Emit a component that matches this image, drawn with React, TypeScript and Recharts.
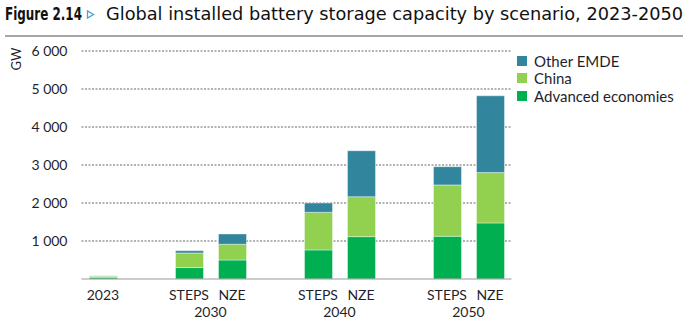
import React from "react";
import { BarChart, Bar, XAxis, YAxis, CartesianGrid, Legend } from "recharts";

const scenarios = ["2023", "", "STEPS", "NZE", "", "STEPS", "NZE", "", "STEPS", "NZE"];
const years = ["", "", "2030", "2030", "", "2040", "2040", "", "2050", "2050"];
const advanced = [45, null, 300, 500, null, 765, 1115, null, 1125, 1475];
const china = [30, null, 385, 415, null, 990, 1050, null, 1350, 1325];
const otherEmde = [7, null, 60, 270, null, 245, 1210, null, 480, 2020];
const yTicks = [1000, 2000, 3000, 4000, 5000, 6000];
const seriesNames = { adv: "Advanced economies", china: "China", other: "Other EMDE" };
const colors = { adv: "#00b050", china: "#92d050", other: "#31859c" };

const data = scenarios.map((s, i) => ({
  key: `c${i}`,
  scenario: s,
  year: years[i],
  adv: advanced[i],
  china: china[i],
  other: otherEmde[i],
}));

const FONT = "Lato, 'Open Sans', sans-serif";
const TXT = "#1f1f2e";
const LEGEND_W = 170;

const fmt = (v: number) => String(v).replace(/\B(?=(\d{3})+(?!\d))/g, " ");

const XTick = (props: any) => {
  const { x, y, payload } = props;
  const i = payload.index;
  const scen = scenarios[i];
  const yr = years[i];
  const firstOfPair = yr && years[i + 1] === yr;
  return (
    <g>
      {scen && (
        <text x={x} y={y} dy={21} textAnchor="middle" fontSize={14} fontFamily={FONT} fill={TXT}>
          {scen}
        </text>
      )}
      {firstOfPair && (
        <text x={x + 21.5} y={y} dy={38} textAnchor="middle" fontSize={14} fontFamily={FONT} fill={TXT}>
          {yr}
        </text>
      )}
    </g>
  );
};

const GwLabel = (props: any) => {
  const vb = props.viewBox || { x: 0, y: 0 };
  const cx = vb.x + 16;
  const cy = vb.y + 8;
  return (
    <text
      x={cx}
      y={cy}
      transform={`rotate(-90 ${cx} ${cy})`}
      textAnchor="middle"
      dominantBaseline="central"
      fontSize={13}
      fontFamily={FONT}
      fill={TXT}
    >
      GW
    </text>
  );
};

const LegendContent = (props: any) => {
  const items = [...(props.payload || [])].reverse();
  return (
    <div style={{ fontFamily: FONT, fontSize: 15, color: TXT }}>
      {items.map((it: any) => (
        <div key={it.value} style={{ display: "flex", alignItems: "center", height: 17.5, whiteSpace: "nowrap" }}>
          <span style={{ display: "inline-block", width: 10, height: 10, background: it.color, marginRight: 7 }} />
          <span>{it.value}</span>
        </div>
      ))}
    </div>
  );
};

export default function App() {
  return (
    <div style={{ position: "absolute", left: 0, top: 0, width: 694, height: 324, background: "#fff" }}>
      <BarChart
        width={694}
        height={324}
        data={data}
        margin={{ top: 51, right: 182.5 - LEGEND_W, bottom: 0, left: 0 }}
        barCategoryGap={0}
      >
        <CartesianGrid
          vertical={false}
          stroke="#9a9a9a"
          strokeWidth={1.4}
          strokeDasharray="2 1.5"
          horizontalValues={yTicks}
        />
        <XAxis
          dataKey="key"
          interval={0}
          tickLine={false}
          tickSize={0}
          tickMargin={0}
          height={45}
          axisLine={{ stroke: "#9a9a9a", strokeWidth: 1.2 }}
          tick={<XTick />}
        />
        <YAxis
          width={81.5}
          domain={[0, 6000]}
          ticks={yTicks}
          tickFormatter={fmt}
          axisLine={false}
          tickLine={false}
          tickSize={0}
          tickMargin={14}
          tick={{ fontSize: 14, fontFamily: FONT, fill: TXT }}
          label={<GwLabel />}
        />
        <Legend
          layout="horizontal"
          verticalAlign="middle"
          align="right"
          content={<LegendContent />}
          wrapperStyle={{ left: 517, top: 52, right: "auto", bottom: "auto", width: LEGEND_W }}
        />
        <Bar dataKey="adv" name={seriesNames.adv} stackId="a" fill={colors.adv} barSize={28} stroke="#ffffff" strokeOpacity={0.4} isAnimationActive={false} />
        <Bar dataKey="china" name={seriesNames.china} stackId="a" fill={colors.china} barSize={28} stroke="#ffffff" strokeOpacity={0.4} isAnimationActive={false} />
        <Bar dataKey="other" name={seriesNames.other} stackId="a" fill={colors.other} barSize={28} stroke="#ffffff" strokeOpacity={0.4} isAnimationActive={false} />
      </BarChart>
      <svg
        width={694}
        height={40}
        style={{ position: "absolute", left: 0, top: 0, pointerEvents: "none" }}
      >
        <text x={5} y={20} fontSize={17} fontWeight="bold" fontFamily="'DejaVu Sans', sans-serif" fill="#111" textLength={77} lengthAdjust="spacingAndGlyphs">
          Figure 2.14
        </text>
        <polygon points="87.5,11 87.5,18 93.5,14.5" fill="none" stroke="#4aa3d8" strokeWidth={1.3} />
        <text x={106} y={20} fontSize={17} fontFamily="'DejaVu Sans', sans-serif" fill="#111" textLength={577} lengthAdjust="spacingAndGlyphs">
          Global installed battery storage capacity by scenario, 2023-2050
        </text>
        <line x1={5} x2={683} y1={36} y2={36} stroke="#a6a6a6" strokeWidth={2} />
      </svg>
    </div>
  );
}
